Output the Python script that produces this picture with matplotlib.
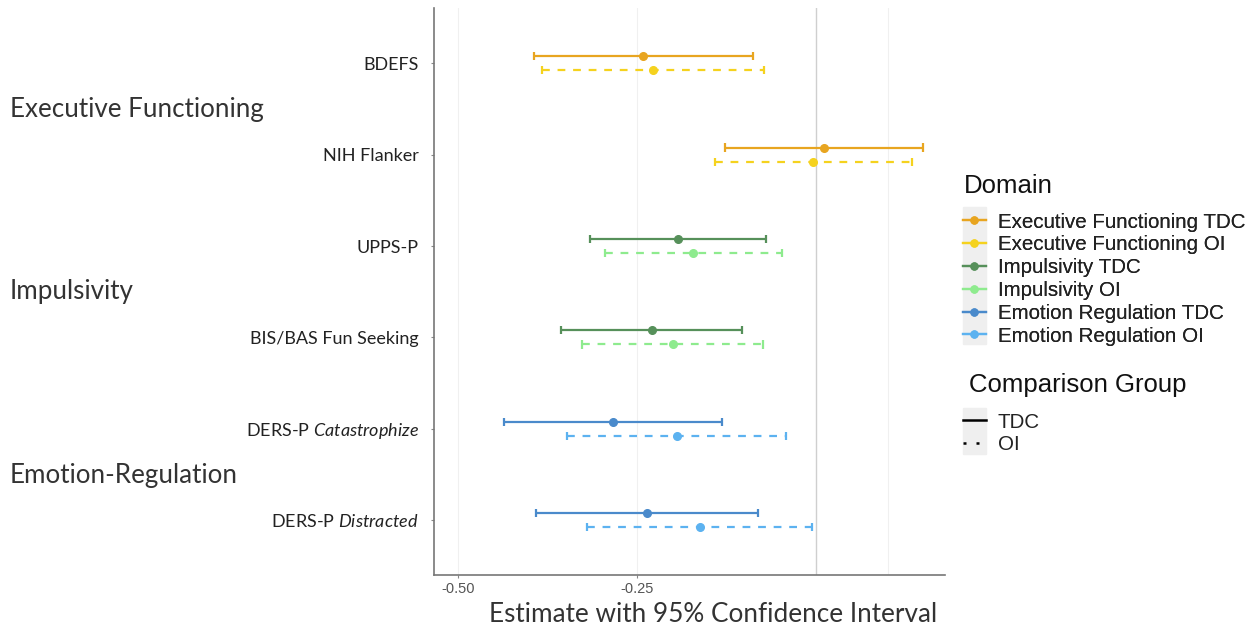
import numpy as np
import matplotlib.pyplot as plt
from matplotlib.lines import Line2D
from matplotlib.patches import Rectangle

plt.rcParams['mathtext.fontset'] = 'custom'
plt.rcParams['mathtext.rm'] = 'Lato'
plt.rcParams['mathtext.it'] = 'Lato:italic'

# measures, top to bottom
measures = ['BDEFS', 'NIH Flanker', 'UPPS-P', 'BIS/BAS Fun Seeking',
            'DERS-P $\\mathit{Catastrophize}$', 'DERS-P $\\mathit{Distracted}$']
domains = ['Executive Functioning', 'Impulsivity', 'Emotion Regulation']
domain_of = [0, 0, 1, 1, 2, 2]
group_labels = ['Executive Functioning', 'Impulsivity', 'Emotion-Regulation']

# estimates and 95% CI, typically developing comparison (TDC)
tdc_est = [-0.242, 0.011, -0.193, -0.230, -0.284, -0.236]
tdc_lo = [-0.394, -0.127, -0.316, -0.356, -0.436, -0.392]
tdc_hi = [-0.088, 0.149, -0.070, -0.104, -0.132, -0.081]

# orthopedic injury (OI)
oi_est = [-0.228, -0.004, -0.172, -0.200, -0.194, -0.162]
oi_lo = [-0.383, -0.142, -0.295, -0.327, -0.348, -0.320]
oi_hi = [-0.073, 0.134, -0.048, -0.074, -0.042, -0.006]

tdc_colors = ['#E8A520', '#56905A', '#4A8ACB']
oi_colors = ['#F5D21E', '#8EEB8E', '#5CB2F0']

W, H = 1256, 631
fig = plt.figure(figsize=(W / 100, H / 100), dpi=100)
ax = fig.add_axes([0.3455, 0.0887, 0.407, 0.898])

y = np.arange(len(measures))
off = 0.077
cap = 0.045

for i in range(len(measures)):
    d = domain_of[i]
    for est, lo, hi, col, yy, ls in [
            (tdc_est[i], tdc_lo[i], tdc_hi[i], tdc_colors[d], y[i] - off, '-'),
            (oi_est[i], oi_lo[i], oi_hi[i], oi_colors[d], y[i] + off, (0, (3.5, 3.5)))]:
        ax.hlines(yy, lo, hi, color=col, lw=1.6, linestyles=[ls], zorder=3)
        ax.vlines([lo, hi], yy - cap, yy + cap, color=col, lw=1.6, zorder=3)
        ax.plot(est, yy, 'o', color=col, ms=5.5, zorder=4)

for gx in [-0.5, -0.25, 0.1]:
    ax.axvline(gx, color='#f0f0f0', lw=0.8, zorder=0)
ax.axvline(0, color='#cfcfcf', lw=1.0, zorder=1)

ax.set_xlim(-0.534, 0.180)
ax.set_ylim(5.6, -0.6)
ax.set_yticks(y)
ax.set_yticklabels(measures, fontsize=13, family='Lato', color='#222222')
ax.set_xticks([-0.5, -0.25])
ax.set_xticklabels(['-0.50', '-0.25'], fontsize=10.5, color='#555555',
                   family='Liberation Sans')
ax.tick_params(axis='both', length=2, color='#888888')
ax.tick_params(axis='x', pad=3)
ax.tick_params(axis='y', pad=9)
for s in ['top', 'right']:
    ax.spines[s].set_visible(False)
for s in ['left', 'bottom']:
    ax.spines[s].set_color('#777777')
    ax.spines[s].set_linewidth(1.2)

fig.text(713 / W, 1 - 614 / H, 'Estimate with 95% Confidence Interval',
         ha='center', va='center', fontsize=18.8, family='Lato', color='#333333')

group_y = [109, 291, 475]
for lab, gy in zip(group_labels, group_y):
    fig.text(10 / W, 1 - gy / H, lab, ha='left', va='center',
             fontsize=18.7, family='Lato', color='#333333')

# legend key backgrounds
fig.patches.append(Rectangle((963 / W, 1 - 344 / H), 23 / W, 137 / H,
                             transform=fig.transFigure, color='#efefef', zorder=0))
fig.patches.append(Rectangle((963 / W, 1 - 454 / H), 23 / W, 46 / H,
                             transform=fig.transFigure, color='#efefef', zorder=0))

# legend titles
title_kw = dict(ha='left', va='center', fontsize=18.5,
                family='Liberation Sans', color='#111111')
fig.text(964 / W, 1 - 186 / H, 'Domain', **title_kw)
fig.text(969 / W, 1 - 385 / H, 'Comparison Group', **title_kw)

dom_handles = []
dom_names = []
for k, name in enumerate(domains):
    dom_handles.append(Line2D([], [], color=tdc_colors[k], marker='o', ms=5, lw=1.6))
    dom_names.append(name + ' TDC')
    dom_handles.append(Line2D([], [], color=oi_colors[k], marker='o', ms=5, lw=1.6))
    dom_names.append(name + ' OI')

leg_kw = dict(loc='upper left', frameon=False,
              handlelength=1.1, handletextpad=0.6, labelspacing=0.185,
              borderpad=0, borderaxespad=0, labelcolor='#222222',
              prop={'family': 'Liberation Sans', 'size': 14.8})

leg1 = fig.legend(dom_handles, dom_names,
                  bbox_to_anchor=(963 / W, 1 - 212.5 / H), **leg_kw)
fig.add_artist(leg1)

grp_handles = [Line2D([], [], color='black', lw=1.8),
               Line2D([], [], color='black', lw=1.8, ls=(0, (1.2, 4)))]
leg2 = fig.legend(grp_handles, ['TDC', 'OI'],
                  bbox_to_anchor=(963 / W, 1 - 412.5 / H), **leg_kw)

fig.savefig('out.png', dpi=100)
